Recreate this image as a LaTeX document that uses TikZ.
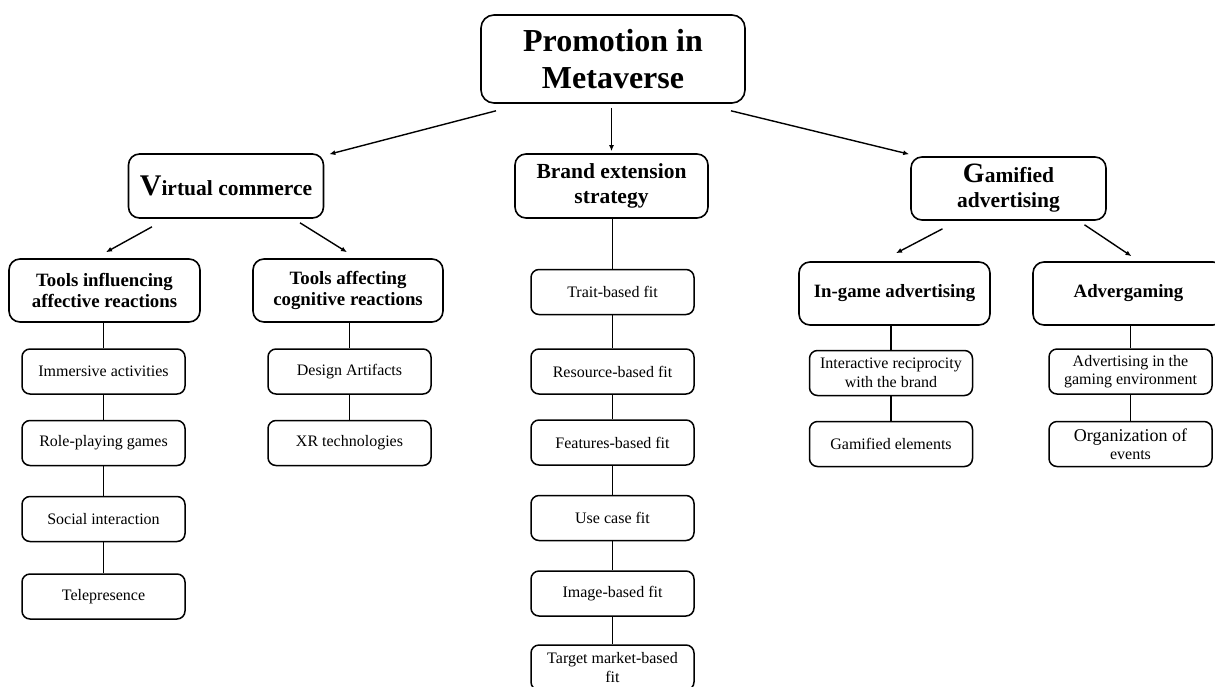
\documentclass[tikz,border=0pt]{standalone}
\usepackage{fontspec}
\setmainfont{Liberation Serif}
\usetikzlibrary{arrows.meta}

\begin{document}
\begin{tikzpicture}[
  every node/.style={inner sep=0pt, align=center},
  rootbox/.style={draw, rounded corners=13pt, line width=1.6pt, minimum width=264pt, minimum height=88pt, font=\bfseries\fontsize{32}{37}\selectfont},
  catbox/.style={draw, rounded corners=11pt, line width=1.6pt, minimum width=195pt, minimum height=64pt, font=\bfseries\fontsize{21.5}{25}\selectfont},
  subbox/.style={draw, rounded corners=11pt, line width=1.6pt, minimum width=191pt, minimum height=63pt, font=\bfseries\fontsize{18.8}{21.5}\selectfont},
  itembox/.style={draw, rounded corners=8pt, line width=1.5pt, minimum width=163pt, minimum height=45pt, font=\fontsize{16}{18.5}\selectfont},
  arr/.style={line width=1.4pt, -{Latex[length=6pt,width=5pt]}},
  link/.style={line width=1.4pt}
]
\useasboundingbox (0pt,0pt) rectangle (1215pt,-686pt);
% top
\node (root) [rootbox] at (613pt, -59pt) {Promotion in\\Metaverse};
% first level
\node (vc) [catbox] at (226pt, -186pt) {{\fontsize{30}{34}\selectfont V}irtual commerce};
\node (brand) [catbox, minimum width=193pt] at (611.5pt, -186pt) {Brand extension\\strategy};
\node (ga) [catbox, minimum height=63pt] at (1008.5pt, -188.5pt) {{\fontsize{28}{30}\selectfont G}amified\\advertising};
% second level
\node (ti) [subbox] at (104.5pt, -290.5pt) {Tools influencing\\affective reactions};
\node (ta) [subbox, minimum width=190pt] at (348pt, -290.5pt) {Tools affecting\\cognitive reactions};
\node (ig) [subbox] at (894.5pt, -293.5pt) {In-game advertising};
\node (ag) [subbox] at (1128.5pt, -293.5pt) {Advergaming};
% affective tools
\node (imm) [itembox] at (103.5pt, -371.5pt) {Immersive activities};
\node (rpg) [itembox] at (103.5pt, -443pt) {Role-playing games};
\node (soc) [itembox] at (103.5pt, -519pt) {Social interaction};
\node (tele) [itembox] at (103.5pt, -596.5pt) {Telepresence};
% cognitive tools
\node (des) [itembox] at (349.5pt, -371.5pt) {Design Artifacts};
\node (xr) [itembox] at (349.5pt, -443pt) {XR technologies};
% brand fits
\node (trait) [itembox] at (612.5pt, -292pt) {Trait-based fit};
\node (res) [itembox] at (612.5pt, -371.5pt) {Resource-based fit};
\node (feat) [itembox] at (612.5pt, -442.5pt) {Features-based fit};
\node (use) [itembox] at (612.5pt, -518pt) {Use case fit};
\node (img) [itembox] at (612.5pt, -593.5pt) {Image-based fit};
\node (target) [itembox] at (612.5pt, -667.5pt) {Target market-based\\fit};
% gamified
\node (int) [itembox] at (891pt, -373pt) {Interactive reciprocity\\with the brand};
\node (gel) [itembox] at (891pt, -444pt) {Gamified elements};
\node (adv) [itembox] at (1130.5pt, -371.5pt) {Advertising in the\\gaming environment};
\node (org) [itembox] at (1130.5pt, -444pt) {{\fontsize{18}{20}\selectfont Organization of}\\events};
% arrows
\draw [arr] ([shift={(-117pt,-7pt)}]root.south) -- ([shift={(5pt,-1pt)}]vc.north east);
\draw [arr] ([yshift=-4pt]root.south -| brand.north) -- ([yshift=2pt]brand.north);
\draw [arr] ([shift={(118pt,-7pt)}]root.south) -- ([shift={(-1pt,2pt)}]ga.north west);
\draw [arr] ([shift={(-74pt,-8pt)}]vc.south) -- ([shift={(1.5pt,6pt)}]ti.north);
\draw [arr] ([shift={(74pt,-4pt)}]vc.south) -- ([shift={(-1pt,6pt)}]ta.north);
\draw [arr] ([shift={(-66pt,-8pt)}]ga.south) -- ([shift={(1.5pt,8pt)}]ig.north);
\draw [arr] ([shift={(76pt,-4pt)}]ga.south) -- ([shift={(3pt,5pt)}]ag.north);
% plain links
\draw [link] (ti.south -| imm.north) -- (imm.north);
\draw [link] (imm) -- (rpg);
\draw [link] (rpg) -- (soc);
\draw [link] (soc) -- (tele);
\draw [link] (ta.south -| des.north) -- (des.north);
\draw [link] (des) -- (xr);
\draw [link] (brand.south -| trait.north) -- (trait.north);
\draw [link] (trait) -- (res);
\draw [link] (res) -- (feat);
\draw [link] (feat) -- (use);
\draw [link] (use) -- (img);
\draw [link] (img) -- (target);
\draw [link] (ig.south -| int.north) -- (int.north);
\draw [link] (int) -- (gel);
\draw [link] (ag.south -| adv.north) -- (adv.north);
\draw [link] (adv) -- (org);
\end{tikzpicture}
\end{document}
